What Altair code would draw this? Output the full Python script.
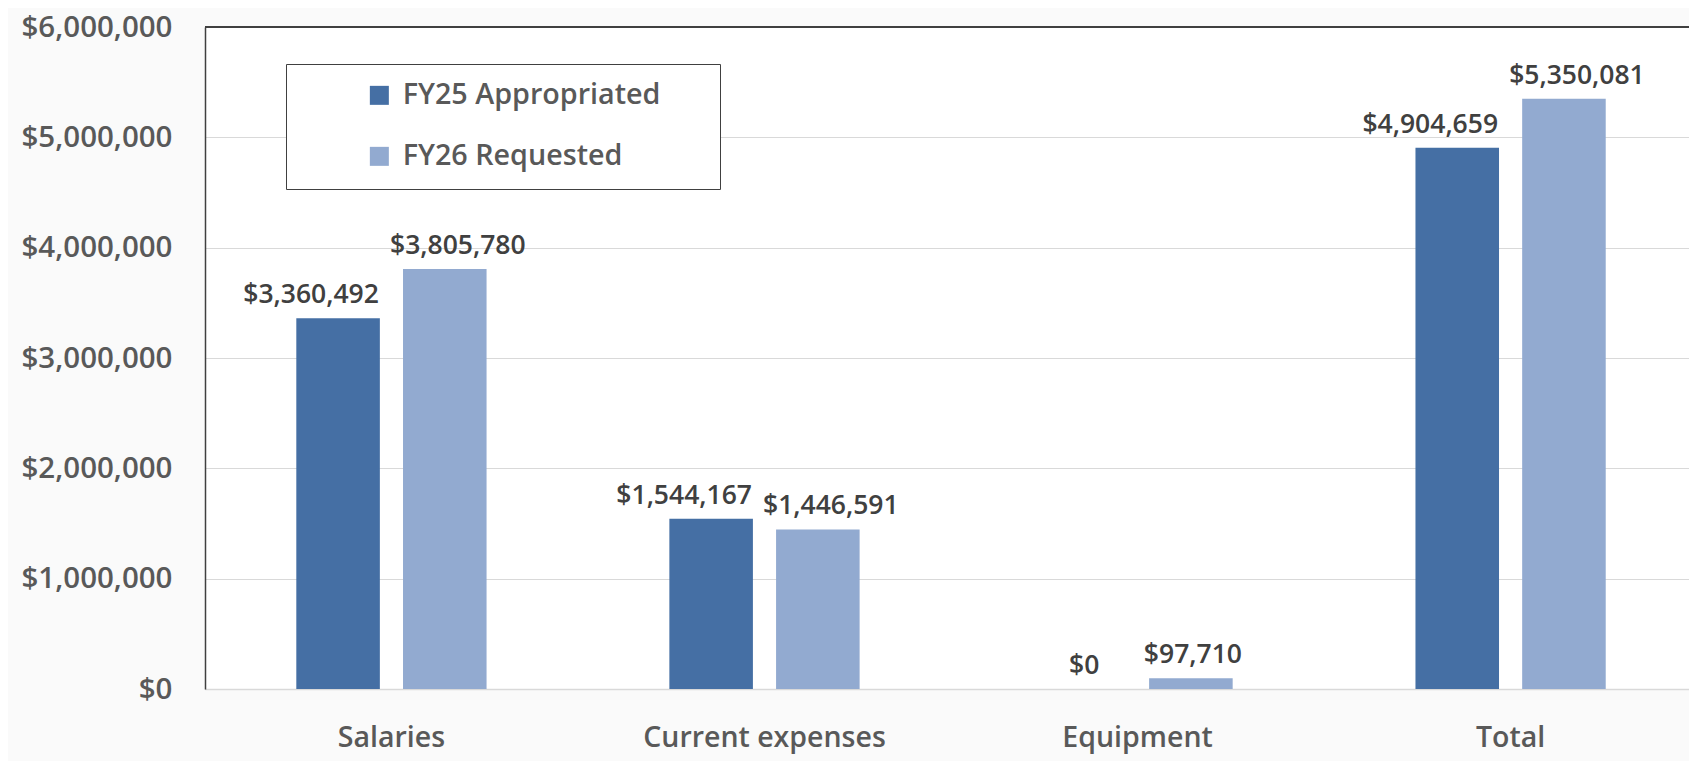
import altair as alt
import pandas as pd

categories = ["Salaries", "Current expenses", "Equipment", "Total"]
series = ["FY25 Appropriated", "FY26 Requested"]
fy25_values = [3360492, 1544167, 0, 4904659]
fy26_values = [3805780, 1446591, 97710, 5350081]
colors = ["#456FA4", "#92AAD0"]
y_ticks = [0, 1000000, 2000000, 3000000, 4000000, 5000000, 6000000]

rows = []
for c, a, b in zip(categories, fy25_values, fy26_values):
    rows.append({"category": c, "series": series[0], "value": a})
    rows.append({"category": c, "series": series[1], "value": b})
df = pd.DataFrame(rows)

FONT = "Open Sans"
W, H = 1484, 662
PAD = "\u2800" * 2

x_enc = alt.X("category:N", sort=categories, title=None,
              scale=alt.Scale(paddingInner=0.49, paddingOuter=0.234, align=0.523),
              axis=alt.Axis(labelAngle=0, tickSize=0, domainColor="#d9d9d9", domainWidth=1.5,
                            labelFontSize=28.5, labelColor="#595959", labelFont=FONT,
                            labelFontWeight=600, labelPadding=34, labelLimit=1000, grid=False))
xo_enc = alt.XOffset("series:N", sort=series,
                     scale=alt.Scale(paddingInner=0.217, paddingOuter=0))
y_enc = alt.Y("value:Q", title=None,
              scale=alt.Scale(domain=[0, 6000000], nice=False),
              axis=alt.Axis(values=y_ticks, format="$,.0f", tickSize=0, labelPadding=33,
                            labelFontSize=29.5, labelColor="#595959", labelFont=FONT,
                            labelFontWeight=600, labelLimit=1000, domainColor="#404040",
                            domainWidth=1.5, gridColor="#d9d9d9", gridWidth=1))

bars = alt.Chart(df).mark_bar().encode(
    x=x_enc, xOffset=xo_enc, y=y_enc,
    color=alt.Color("series:N", sort=series, title=None,
                    scale=alt.Scale(domain=series, range=colors),
                    legend=alt.Legend(orient="none", legendX=81, legendY=37,
                                      direction="vertical", symbolType="square",
                                      symbolSize=361, symbolStrokeWidth=0,
                                      labelFontSize=28.7, labelColor="#595959",
                                      labelFont=FONT, labelFontWeight=600, labelLimit=1000,
                                      labelOffset=9, rowPadding=31, padding=17,
                                      symbolOffset=62, strokeColor="#404040",
                                      fillColor="white",
                                      labelExpr="datum.label + '" + PAD + "'")),
)


def value_labels(name, dx, equipment):
    cond = (alt.datum.series == name) & (
        (alt.datum.category == "Equipment") if equipment else (alt.datum.category != "Equipment"))
    return alt.Chart(df).transform_filter(cond).mark_text(
        baseline="bottom", dy=-9, dx=dx, fontSize=26.5, font=FONT,
        fontWeight=600, color="#404040").encode(
        x=alt.X("category:N", sort=categories),
        xOffset=alt.XOffset("series:N", sort=series),
        y=alt.Y("value:Q"),
        text=alt.Text("value:Q", format="$,.0f"),
    )


layers = [
    bars,
    value_labels(series[0], -27, False),
    value_labels(series[1], 13, False),
    value_labels(series[0], 0, True),
    value_labels(series[1], 2, True),
]

top_border = alt.Chart(pd.DataFrame({"v": [6000000]})).mark_rule(
    color="#404040", strokeWidth=2).encode(y=alt.Y("v:Q"))

chart = alt.layer(*layers, top_border).properties(
    width=W, height=H,
    autosize=alt.AutoSizeParams(type="none"),
    padding={"left": 197, "top": 19, "right": 0, "bottom": 72},
    background="#fafafa",
).configure_view(fill="white", stroke=None)

chart.save("out.html", embed_options={"renderer": "svg", "actions": False})
